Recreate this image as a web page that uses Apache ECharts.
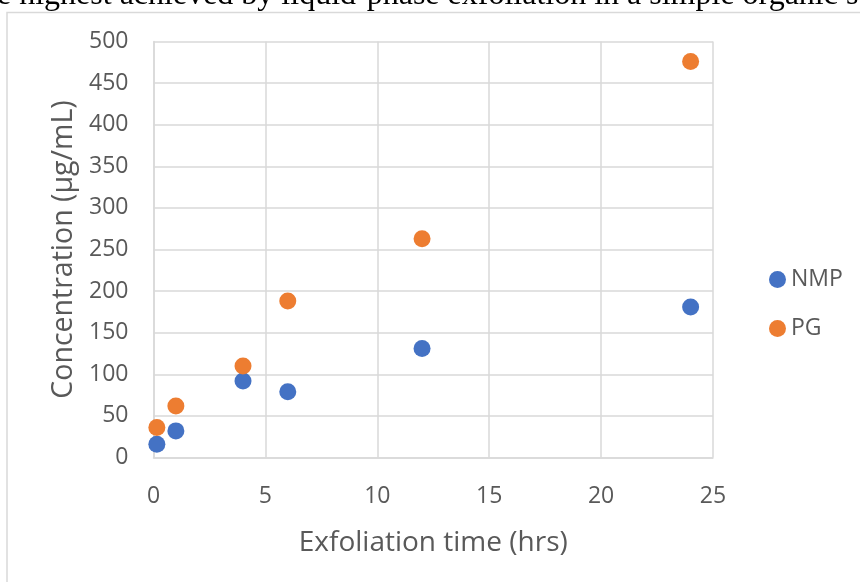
<!DOCTYPE html>
<html>
<head>
<meta charset="utf-8">
<script src="https://cdn.jsdelivr.net/npm/echarts@6/dist/echarts.min.js"></script>
<style>
  html, body { margin: 0; padding: 0; background: #ffffff; }
  #chart { width: 860px; height: 582px; }
</style>
</head>
<body>
<div id="chart"></div>
<script>
// Exfoliation time (hrs) for each sample
const timesNMP = [0.15, 1, 4, 6, 12, 24];
const timesPG  = [0.15, 1, 4, 6, 12, 24];
// Graphene concentration (µg/mL)
const concNMP = [16, 32, 92, 79, 131, 181];
const concPG  = [36, 62, 110, 188, 263, 476];
const seriesNames = ['NMP', 'PG'];
const captionText = 'e highest achieved by liquid-phase exfoliation in a simple organic s';

const pairs = (xs, ys) => xs.map((x, i) => [x, ys[i]]);

const labelColor = '#595959';
const gridColor = '#d9d9d9';
const uiFont = '"Open Sans", "Noto Sans", sans-serif';

const chart = echarts.init(document.getElementById('chart'), null, { renderer: 'canvas' });

chart.setOption({
  animation: false,
  backgroundColor: '#ffffff',
  graphic: [
    {
      type: 'rect',
      shape: { x: 7, y: 12.5, width: 1000, height: 700 },
      style: { fill: 'none', stroke: gridColor, lineWidth: 1.5 },
      silent: true
    },
    {
      type: 'text',
      left: -3,
      top: -20,
      style: {
        text: captionText,
        font: '32px "Liberation Serif", "Times New Roman", serif',
        fill: '#000000'
      },
      silent: true
    }
  ],
  grid: { left: 153.5, right: 147, top: 41.5, bottom: 124.5, containLabel: false },
  legend: {
    orient: 'vertical',
    left: 764,
    top: 263,
    itemWidth: 17,
    itemHeight: 17,
    itemGap: 26,
    icon: 'circle',
    textStyle: { color: labelColor, fontSize: 23, fontFamily: uiFont, padding: [0, 0, 0, 0] },
    data: seriesNames
  },
  xAxis: {
    type: 'value',
    min: 0, max: 25, interval: 5,
    name: 'Exfoliation time (hrs)',
    nameLocation: 'middle',
    nameGap: 72,
    nameTextStyle: { color: labelColor, fontSize: 28, fontFamily: uiFont },
    axisLine: { show: true, lineStyle: { color: gridColor, width: 1.5 } },
    axisTick: { show: false },
    axisLabel: { color: labelColor, fontSize: 23, fontFamily: uiFont, margin: 27 },
    splitLine: { show: true, lineStyle: { color: gridColor, width: 1.5 } }
  },
  yAxis: {
    type: 'value',
    min: 0, max: 500, interval: 50,
    name: 'Concentration (µg/mL)',
    nameLocation: 'middle',
    nameGap: 74,
    nameTextStyle: { color: labelColor, fontSize: 28.5, fontFamily: uiFont },
    axisLine: { show: true, lineStyle: { color: gridColor, width: 1.5 } },
    axisTick: { show: false },
    axisLabel: { color: labelColor, fontSize: 23, fontFamily: uiFont, margin: 25 },
    splitLine: { show: true, lineStyle: { color: gridColor, width: 1.5 } }
  },
  series: [
    {
      name: seriesNames[0],
      type: 'scatter',
      symbol: 'circle',
      symbolSize: 17,
      itemStyle: { color: '#4472c4', opacity: 1 },
      data: pairs(timesNMP, concNMP)
    },
    {
      name: seriesNames[1],
      type: 'scatter',
      symbol: 'circle',
      symbolSize: 17,
      itemStyle: { color: '#ed7d31', opacity: 1 },
      data: pairs(timesPG, concPG)
    }
  ]
});
</script>
</body>
</html>
